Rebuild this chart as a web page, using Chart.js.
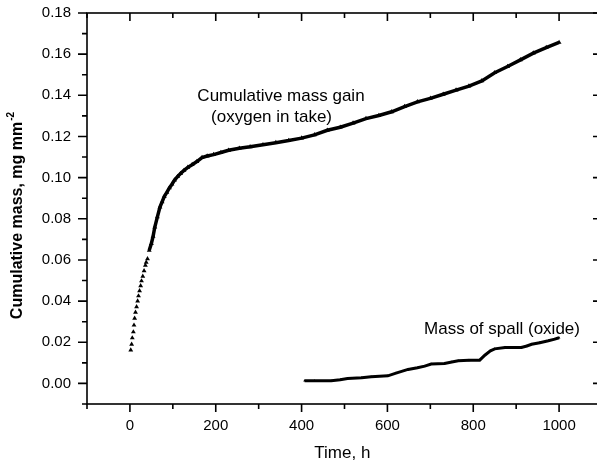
<!DOCTYPE html>
<html>
<head>
<meta charset="utf-8">
<script src="https://cdn.jsdelivr.net/npm/chart.js@4/dist/chart.umd.min.js"></script>
<style>
  html, body { margin: 0; padding: 0; background: #fff; overflow: hidden; }
  canvas { display: block; }
</style>
</head>
<body>
<canvas id="chart" width="610" height="465"></canvas>
<script>
// cumulative mass gain (oxygen intake), time in h
const gainTime = [
    2, 4, 5.5, 8, 9.5, 11, 13, 15.5, 18, 20,
    22.5, 25, 27, 30, 33, 36, 38, 41, 45, 50,
    54, 58, 64, 70, 75, 80, 86, 92, 98, 104,
    111, 118, 126, 135, 145, 156, 168, 180, 195, 212,
    230, 255, 280, 310, 340, 370, 400, 430, 460, 490,
    520, 550, 580, 610, 640, 670, 700, 730, 760, 790,
    820, 850, 880, 910, 940, 970, 1000
];
const gainMass = [
    0.0162, 0.0190, 0.0221, 0.0250, 0.0283, 0.0316, 0.0345, 0.0372, 0.0400, 0.0425,
    0.0450, 0.0474, 0.0498, 0.0520, 0.0547, 0.0574, 0.0588, 0.0605, 0.0647, 0.0680,
    0.0715, 0.0760, 0.0809, 0.0857, 0.0882, 0.0908, 0.0928, 0.0950, 0.0968, 0.0988,
    0.1005, 0.1020, 0.1035, 0.1050, 0.1063, 0.1078, 0.1097, 0.1105, 0.1112, 0.1122,
    0.1133, 0.1143, 0.1150, 0.1160, 0.1170, 0.1180, 0.1192, 0.1208, 0.1230, 0.1245,
    0.1265, 0.1287, 0.1302, 0.1320, 0.1345, 0.1368, 0.1385, 0.1405, 0.1425, 0.1445,
    0.1470, 0.1510, 0.1540, 0.1572, 0.1605, 0.1632, 0.1657
];

// mass of spall (oxide)
const spallTime = [
    407, 430, 469, 490, 507, 540, 562, 601, 620, 648,
    670, 687, 702, 733, 750, 765, 790, 815, 827, 840,
    850, 874, 912, 925, 936, 955, 975, 990, 1000
];
const spallMass = [
    0.0013, 0.0013, 0.0013, 0.0018, 0.0024, 0.0028, 0.0032, 0.0037, 0.0050, 0.0068,
    0.0076, 0.0084, 0.0094, 0.0097, 0.0104, 0.0110, 0.0112, 0.0113, 0.0137, 0.0158,
    0.0168, 0.0175, 0.0175, 0.0182, 0.0190, 0.0198, 0.0207, 0.0215, 0.0222
];

const xTickLabels = [0, 200, 400, 600, 800, 1000];
const yTickLabels = ['0.00', '0.02', '0.04', '0.06', '0.08', '0.10', '0.12', '0.14', '0.16', '0.18'];

const notes = [
    { text: 'Cumulative mass gain', x: 352, y: 0.1396 },
    { text: '(oxygen in take)', x: 330, y: 0.1294 },
    { text: 'Mass of spall (oxide)', x: 867, y: 0.0264 }
];

const FONT = '"Liberation Sans", Arial, Helvetica, sans-serif';
Chart.defaults.font.family = FONT;
Chart.defaults.color = '#000';

const framePlugin = {
    id: 'frame',
    afterDraw(chart) {
        const ctx = chart.ctx;
        const { left, right, top, bottom } = chart.chartArea;
        const xs = chart.scales.x;
        const ys = chart.scales.y;
        ctx.save();
        ctx.strokeStyle = '#000';
        ctx.lineWidth = 1.6;
        ctx.strokeRect(left, top, right - left, bottom - top);

        ctx.beginPath();
        for (let v = -100; v <= 1100; v += 100) {
            const px = xs.getPixelForValue(v);
            const len = v % 200 === 0 ? 8 : 5;
            ctx.moveTo(px, bottom);
            ctx.lineTo(px, bottom + len);
            ctx.moveTo(px, top);
            ctx.lineTo(px, top + len);
        }
        for (let k = -1; k <= 18; k++) {
            const py = ys.getPixelForValue(k / 100);
            const len = k % 2 === 0 ? 9 : 5;
            ctx.moveTo(left, py);
            ctx.lineTo(left - len, py);
            ctx.moveTo(right, py);
            ctx.lineTo(right - len, py);
        }
        ctx.stroke();

        // annotations
        ctx.fillStyle = '#000';
        ctx.font = '17px ' + FONT;
        ctx.textAlign = 'center';
        ctx.textBaseline = 'middle';
        notes.forEach(n => {
            ctx.fillText(n.text, xs.getPixelForValue(n.x), ys.getPixelForValue(n.y));
        });

        // x title
        ctx.fillText('Time, h', xs.getPixelForValue(495), 453);

        // y title with superscript
        const main = 'Cumulative mass, mg mm';
        const sup = '-2';
        ctx.font = 'bold 16px ' + FONT;
        const wMain = ctx.measureText(main).width;
        ctx.font = 'bold 10px ' + FONT;
        const wSup = ctx.measureText(sup).width;
        ctx.translate(18, 216);
        ctx.rotate(-Math.PI / 2);
        const start = -(wMain + wSup) / 2;
        ctx.textAlign = 'left';
        ctx.font = 'bold 16px ' + FONT;
        ctx.fillText(main, start, 0);
        ctx.font = 'bold 10px ' + FONT;
        ctx.fillText(sup, start + wMain + 1, -7);
        ctx.restore();
    }
};

const toPoints = (xs, ys) => xs.map((t, i) => ({ x: t, y: ys[i] }));

new Chart(document.getElementById('chart'), {
    type: 'scatter',
    data: {
        datasets: [
            {
                label: 'Cumulative mass gain',
                data: toPoints(gainTime, gainMass),
                showLine: true,
                borderColor: '#000',
                borderWidth: 3.5,
                pointStyle: 'triangle',
                pointRadius: 2.8,
                pointBackgroundColor: '#000',
                pointBorderWidth: 0,
                segment: {
                    borderColor: c => c.p0.parsed.x < 44 ? 'rgba(0,0,0,0)' : '#000'
                }
            },
            {
                label: 'Mass of spall (oxide)',
                data: toPoints(spallTime, spallMass),
                showLine: true,
                borderColor: '#000',
                borderWidth: 3,
                pointStyle: 'triangle',
                pointRadius: 1.6,
                pointBackgroundColor: '#000',
                pointBorderWidth: 0
            }
        ]
    },
    options: {
        responsive: false,
        animation: false,
        layout: { autoPadding: false, padding: { top: 13, right: 8, left: 0, bottom: 0 } },
        plugins: {
            legend: { display: false },
            tooltip: { enabled: false }
        },
        scales: {
            x: {
                type: 'linear',
                min: -100,
                max: 1100,
                grid: { display: false, drawTicks: false },
                border: { display: false },
                ticks: {
                    stepSize: 100,
                    autoSkip: false,
                    maxRotation: 0,
                    padding: 13,
                    font: { size: 15 },
                    callback: v => xTickLabels.includes(v) ? String(v) : ''
                },
                afterFit: s => {
                    s.height = 61;
                    s.paddingLeft = 0;
                    s.paddingRight = 0;
                }
            },
            y: {
                min: -0.01,
                max: 0.18,
                grid: { display: false, drawTicks: false },
                border: { display: false },
                ticks: {
                    stepSize: 0.01,
                    autoSkip: false,
                    padding: 16,
                    font: { size: 15 },
                    callback: v => {
                        const k = Math.round(v * 100);
                        return (k >= 0 && k % 2 === 0) ? yTickLabels[k / 2] : '';
                    }
                },
                afterFit: s => {
                    s.width = 87;
                    s.paddingTop = 0;
                    s.paddingBottom = 0;
                }
            }
        }
    },
    plugins: [framePlugin]
});
</script>
</body>
</html>
